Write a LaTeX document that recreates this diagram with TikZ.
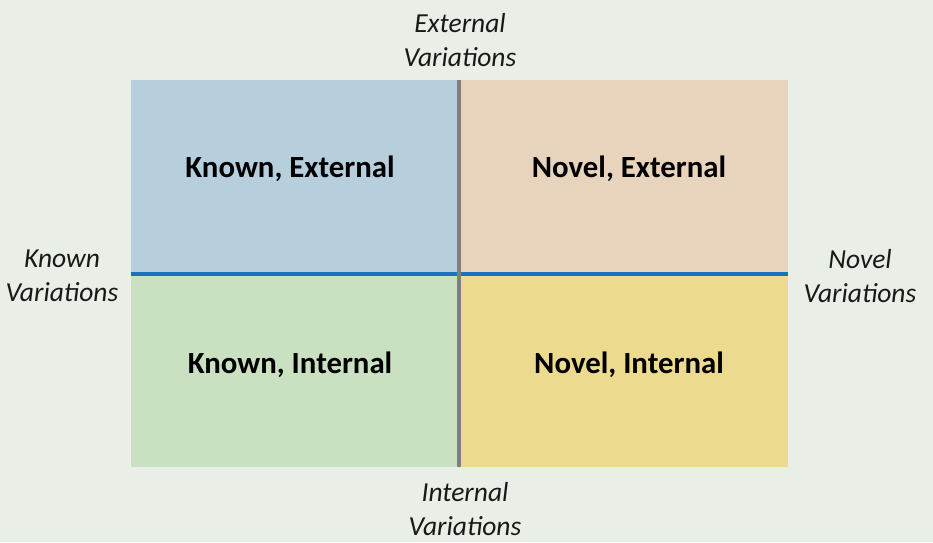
\documentclass[tikz,border=0pt]{standalone}
\usepackage{fontspec}
\setmainfont{Carlito}
\definecolor{bg}{HTML}{E9EEE7}
\definecolor{qtl}{HTML}{B7CFDC}
\definecolor{qtr}{HTML}{E8D4BC}
\definecolor{qbl}{HTML}{C9E0C1}
\definecolor{qbr}{HTML}{ECDB8F}
\definecolor{hline}{HTML}{1A72BB}
\definecolor{vline}{HTML}{7F7F7F}
\tikzset{
  quad/.style={font=\fontsize{30.8}{33}\selectfont\bfseries, text=black},
  axislabel/.style={font=\fontsize{27.5}{34}\selectfont\itshape, align=center, text=black!90, inner sep=0pt}
}
\begin{document}
\begin{tikzpicture}[x=1pt,y=-1pt]
\fill[bg] (0,0) rectangle (933,542);
\useasboundingbox (0,0) rectangle (933,542);
\fill[qtl] (131,80) rectangle (459,274);
\fill[qtr] (459,80) rectangle (788,274);
\fill[qbl] (131,274) rectangle (459,467);
\fill[qbr] (459,274) rectangle (788,467);
\coordinate (hl) at (131,274);
\coordinate (hr) at (788,274);
\coordinate (vt) at (459,80);
\coordinate (vb) at (459,467);
\draw[hline, line width=3.5pt] (hl) -- (hr);
\draw[vline, line width=3.5pt] (vt) -- (vb);
\node[quad] (ke) at (290,169) {Known, External};
\node[quad] (ne) at (629,169) {Novel, External};
\node[quad] (ki) at (290,365) {Known, Internal};
\node[quad] (ni) at (629,365) {Novel, Internal};
\node[axislabel] (ev) at (460,40) {External\\Variations};
\node[axislabel] (iv) at (465,509) {Internal\\Variations};
\node[axislabel] (kv) at (62,276) {Known\\Variations};
\node[axislabel] (nv) at (860,276) {Novel\\Variations};
\end{tikzpicture}
\end{document}
